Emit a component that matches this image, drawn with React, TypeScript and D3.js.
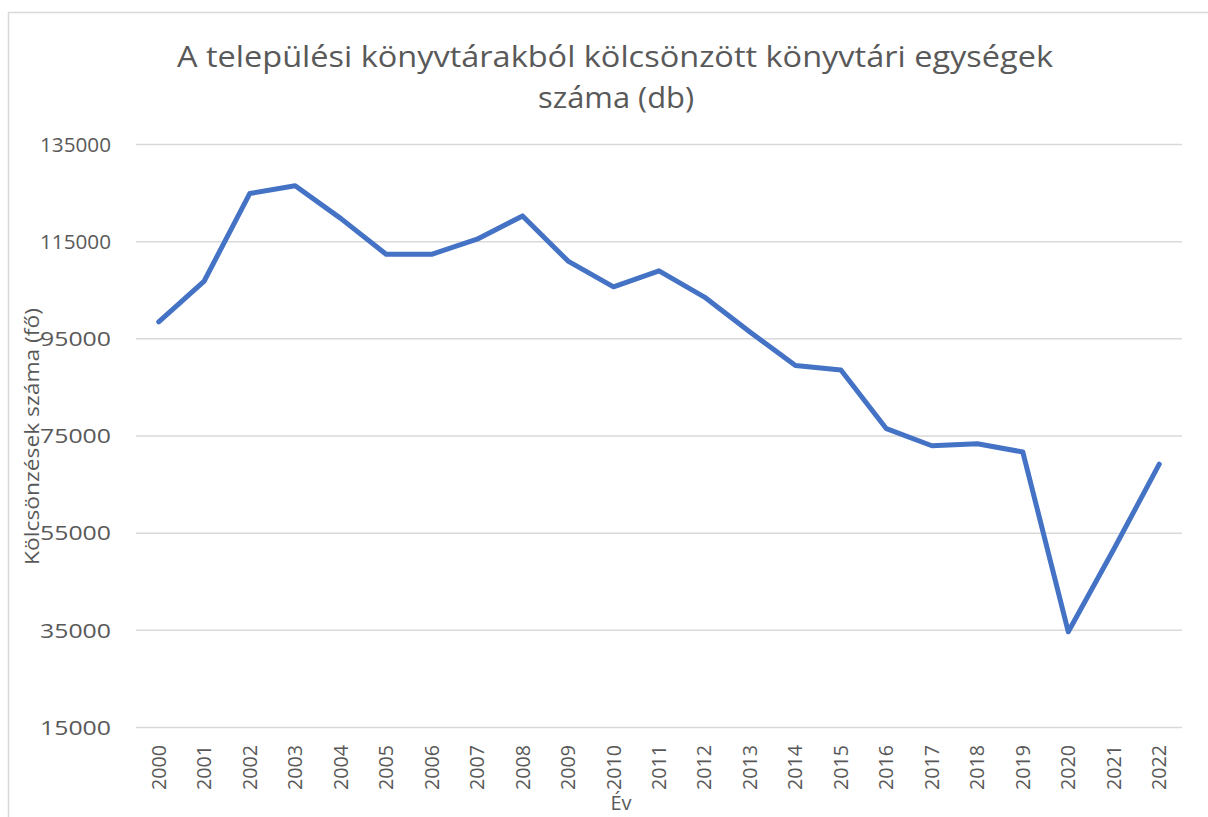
import React from "react";
import * as d3 from "d3";

const years = ["2000","2001","2002","2003","2004","2005","2006","2007","2008","2009","2010","2011","2012","2013","2014","2015","2016","2017","2018","2019","2020","2021","2022"];
const loans = [98500,106900,124900,126500,119800,112400,112400,115500,120300,111000,105700,109000,103600,96400,89500,88600,76500,73000,73400,71700,34700,51700,69200];
const yTicks = [15000,35000,55000,75000,95000,115000,135000];
const titleLines = ["A települési könyvtárakból kölcsönzött könyvtári egységek", "száma (db)"];
const yTitle = "Kölcsönzések száma (fő)";
const xTitle = "Év";

const W = 1208, H = 817;
const FONT = "'Open Sans', 'Noto Sans', sans-serif";
const TEXT = "#595959";

export default function App() {
  const left = 136, right = 1182, top = 144.5, bottom = 727.5;
  const x = d3.scaleBand<string>().domain(years).range([left, right]);
  const y = d3.scaleLinear().domain([15000, 135000]).range([bottom, top]);
  const line = d3.line<number>()
    .x((_, i) => (x(years[i]) as number) + x.bandwidth() / 2)
    .y((d) => y(d));

  return (
    <svg width={W} height={H} style={{ position: "absolute", left: 0, top: 0, background: "#fff" }}>
      <rect x={8.5} y={12.5} width={W + 10} height={H + 10} fill="#fff" stroke="#d9d9d9" strokeWidth={1.5} />
      <g fontFamily={FONT} fill={TEXT}>
        <text x={615} y={67} fontSize={30} textAnchor="middle" textLength={876} lengthAdjust="spacingAndGlyphs">{titleLines[0]}</text>
        <text x={616} y={108} fontSize={30} textAnchor="middle" textLength={156} lengthAdjust="spacingAndGlyphs">{titleLines[1]}</text>
      </g>
      {yTicks.map((t) => (
        <g key={t}>
          <line x1={left} x2={right} y1={y(t)} y2={y(t)} stroke="#d9d9d9" strokeWidth={1.5} />
          <text x={111} y={y(t)} dy="0.36em" textAnchor="end" fontFamily={FONT} fontSize={20} fill={TEXT} textLength={71} lengthAdjust="spacingAndGlyphs">{t}</text>
        </g>
      ))}
      {years.map((yr) => {
        const cx = (x(yr) as number) + x.bandwidth() / 2;
        return (
          <text key={yr} transform={`translate(${cx + 7},745) rotate(-90)`} textAnchor="end" fontFamily={FONT} fontSize={20} fill={TEXT} textLength={45} lengthAdjust="spacingAndGlyphs">{yr}</text>
        );
      })}
      <path d={line(loans) as string} fill="none" stroke="#4472C4" strokeWidth={5} strokeLinejoin="round" strokeLinecap="round" />
      <text transform="translate(39,436.5) rotate(-90)" textAnchor="middle" fontFamily={FONT} fontSize={20} fill={TEXT} textLength={257} lengthAdjust="spacingAndGlyphs">{yTitle}</text>
      <text x={621} y={810} textAnchor="middle" fontFamily={FONT} fontSize={20} fill={TEXT}>{xTitle}</text>
    </svg>
  );
}
